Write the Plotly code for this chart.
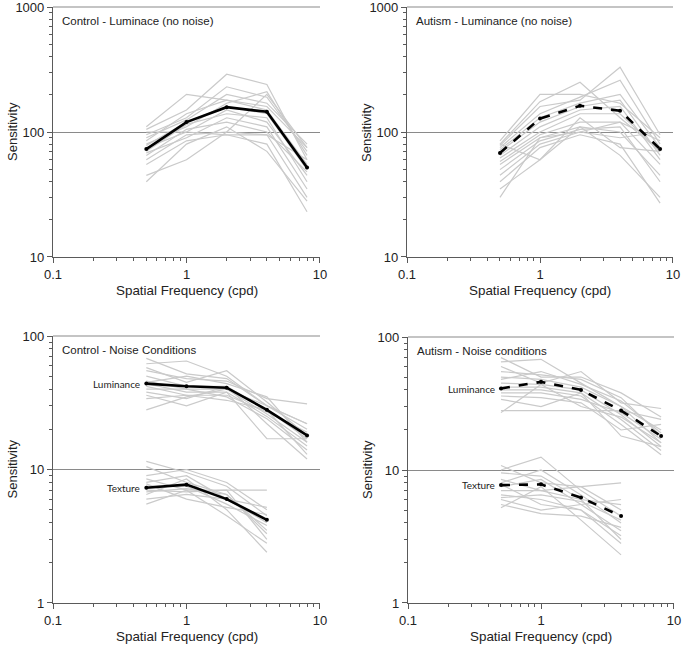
import math
import plotly.graph_objects as go

# ---------------- data ----------------
freq5 = [0.5, 1, 2, 4, 8]
freq4 = [0.5, 1, 2, 4]

ctrl_lum_mean = [73, 120, 158, 145, 52]
aut_lum_mean = [68, 128, 162, 148, 73]
ctrl_noise_lum_mean = [44, 42, 41, 28, 18]
ctrl_noise_tex_mean = [7.3, 7.7, 6.0, 4.2]
aut_noise_lum_mean = [41, 46, 40, 28, 18]
aut_noise_tex_mean = [7.7, 7.8, 6.2, 4.5]

ctrl_lum_subj = [
    [110, 200, 180, 160, 75], [105, 150, 290, 240, 60], [95, 130, 230, 190, 70],
    [90, 125, 200, 170, 80], [85, 140, 180, 150, 55], [80, 110, 170, 210, 65],
    [78, 120, 160, 140, 50], [75, 100, 150, 120, 45], [70, 115, 140, 130, 40],
    [68, 90, 130, 110, 35], [65, 105, 120, 100, 48], [60, 95, 100, 95, 30],
    [55, 85, 95, 80, 23], [45, 60, 100, 200, 75], [40, 80, 110, 70, 28],
    [100, 100, 95, 95, 60],
]
aut_lum_subj = [
    [85, 200, 200, 170, 90], [80, 175, 250, 130, 70], [78, 160, 180, 330, 95],
    [75, 140, 190, 260, 80], [72, 130, 170, 200, 75], [70, 120, 160, 180, 65],
    [65, 110, 150, 160, 60], [62, 100, 140, 140, 70], [58, 95, 120, 120, 55],
    [55, 90, 110, 100, 45], [50, 85, 105, 110, 40], [45, 80, 100, 90, 100],
    [40, 75, 95, 80, 27], [35, 60, 110, 65, 30], [30, 90, 100, 120, 85],
    [80, 60, 130, 75, 70],
]
ctrl_noise_lum_subj = [
    [68, 52, 48, 30, 22], [62, 65, 50, 30, 20], [58, 45, 55, 32, 18],
    [55, 48, 46, 34, 31], [50, 42, 42, 28, 17], [46, 40, 40, 26, 16],
    [44, 38, 38, 25, 15], [42, 36, 36, 27, 19], [40, 40, 35, 24, 14],
    [38, 34, 42, 22, 12], [36, 30, 38, 17, 17], [34, 36, 33, 28, 13],
    [28, 35, 40, 30, 22], [45, 50, 44, 35, 16],
]
ctrl_noise_tex_subj = [
    [11.5, 9.5, 7.5, 4.5], [10.5, 8, 6.5, 3.5], [9, 10, 8, 5], [8.5, 7, 7, 7],
    [8, 9, 6, 4], [7.5, 7.5, 5.5, 3.8], [7, 6.8, 7, 3], [6.5, 8.5, 5, 2.4],
    [6, 6.5, 6, 5.2], [5.5, 7, 4.5, 2.8], [7.8, 6, 5.2, 4.6], [6.8, 7.2, 6.5, 3.3],
]
aut_noise_lum_subj = [
    [70, 50, 50, 38, 25], [65, 68, 45, 30, 20], [60, 45, 55, 32, 29],
    [55, 52, 48, 35, 18], [50, 48, 42, 30, 16], [45, 44, 40, 26, 15],
    [42, 42, 38, 24, 14], [40, 40, 36, 22, 13], [38, 38, 34, 27, 17],
    [36, 35, 32, 20, 22], [34, 30, 38, 18, 15], [27, 44, 30, 25, 16],
    [28, 28, 28, 28, 24], [48, 55, 44, 33, 19],
]
aut_noise_tex_subj = [
    [10.8, 8, 7.5, 5], [10, 12.5, 7, 4.5], [9.5, 9, 6, 5.5], [8.5, 7, 7.5, 8],
    [8, 10, 6.5, 4], [7.5, 8.5, 5.5, 3.5], [7, 7, 6, 3], [6.5, 6, 5, 2.8],
    [6, 5, 5.5, 6], [5.5, 4.7, 4.5, 3.7], [5.2, 7.5, 4.2, 2.3], [6.2, 6.5, 5.8, 4.2],
    [7.8, 5.5, 5, 3.2],
]

panel_titles = ["Control - Luminace (no noise)", "Autism - Luminance (no noise)",
                "Control - Noise Conditions", "Autism - Noise conditions"]
x_title = "Spatial Frequency (cpd)"
y_title = "Sensitivity"
cond_labels = ["Luminance", "Texture"]

# ---------------- figure ----------------
W, H = 685, 648
fig = go.Figure()

GRAY = "#cacaca"
AXC = "#5a5a5a"
GRIDC = "#8a8a8a"

# panel pixel boxes: (x0, x1, ytop, ybottom)
boxes = [(53, 320, 7, 257), (407, 673, 7, 257), (53, 320, 336, 603), (408, 674, 337, 603)]
axes_ids = [("x", "y"), ("x2", "y2"), ("x3", "y3"), ("x4", "y4")]


def add_lines(subj, mean, xs, k, dashed):
    xa, ya = axes_ids[k]
    for s in subj:
        fig.add_trace(go.Scatter(x=xs, y=s, mode="lines", xaxis=xa, yaxis=ya,
                                 line=dict(color=GRAY, width=1.2), hoverinfo="skip",
                                 showlegend=False))
    fig.add_trace(go.Scatter(x=xs, y=mean, mode="lines+markers", xaxis=xa, yaxis=ya,
                             line=dict(color="black", width=2.6,
                                       dash="dash" if dashed else "solid"),
                             marker=dict(size=4, color="black"),
                             showlegend=False))


add_lines(ctrl_lum_subj, ctrl_lum_mean, freq5, 0, False)
add_lines(aut_lum_subj, aut_lum_mean, freq5, 1, True)
add_lines(ctrl_noise_lum_subj, ctrl_noise_lum_mean, freq5, 2, False)
add_lines(ctrl_noise_tex_subj, ctrl_noise_tex_mean, freq4, 2, False)
add_lines(aut_noise_lum_subj, aut_noise_lum_mean, freq5, 3, True)
add_lines(aut_noise_tex_subj, aut_noise_tex_mean, freq4, 3, True)

tickfont = dict(family="Liberation Sans, Arial, sans-serif", size=13, color="#222")
layout = {}
annotations = []
shapes = []
EPS = 1e-4
for k, (x0, x1, yt, yb) in enumerate(boxes):
    sfx = "" if k == 0 else str(k + 1)
    top = k < 2
    yrange = [1 - EPS, 3 + EPS] if top else [0 - EPS, 2 + EPS]
    layout["xaxis" + sfx] = dict(
        type="log", range=[-1 - EPS, 1 + EPS], domain=[x0 / W, x1 / W], automargin=False,
        anchor="y" + sfx, showline=True, linecolor=AXC, linewidth=1.2,
        showgrid=False, zeroline=False, ticks="outside", ticklen=5, tickcolor=AXC,
        tickmode="linear", tick0=0, dtick=1, tickfont=tickfont,
        ticklabeloverflow="allow",
        minor=dict(ticks="outside", ticklen=3, tickcolor=AXC, showgrid=False, dtick="D1"),
    )
    layout["yaxis" + sfx] = dict(
        type="log", range=yrange, domain=[1 - yb / H, 1 - yt / H], automargin=False,
        anchor="x" + sfx, showline=True, linecolor=AXC, linewidth=1.2,
        showgrid=True, gridcolor=GRIDC, gridwidth=1.2, zeroline=False,
        ticks="outside", ticklen=5, tickcolor=AXC,
        tickmode="linear", tick0=0, dtick=1, tickfont=tickfont,
        ticklabeloverflow="allow",
        minor=dict(ticks="outside", ticklen=3, tickcolor=AXC, showgrid=False, dtick="D1"),
    )
    # top gridline (at the upper range edge)
    shapes.append(dict(type="line", xref="x" + sfx + " domain", yref="y" + sfx + " domain",
                       x0=0, x1=1, y0=1, y1=1, line=dict(color=GRIDC, width=1.2)))
    # axis titles
    annotations.append(dict(text=x_title, x=(x0 + x1) / 2 / W, y=1 - (yb + 33) / H,
                            xref="paper", yref="paper", showarrow=False,
                            font=dict(family="Liberation Sans, Arial", size=13.4, color="#222"),
                            xanchor="center", yanchor="middle"))
    annotations.append(dict(text=y_title, x=(x0 - 41) / W, y=1 - (yt + yb) / 2 / H,
                            xref="paper", yref="paper", showarrow=False, textangle=-90,
                            font=dict(family="Liberation Sans, Arial", size=13, color="#222"),
                            xanchor="center", yanchor="middle"))
    # panel titles
    annotations.append(dict(text=panel_titles[k], x=(x0 + 7) / W, y=1 - (yt + 14) / H,
                            xref="paper", yref="paper", showarrow=False,
                            font=dict(family="Liberation Sans, Arial", size=11.5, color="#222"),
                            xanchor="left", yanchor="middle"))

# condition labels placed next to the first mean point
for k, lum_mean, tex_mean in [(2, ctrl_noise_lum_mean, ctrl_noise_tex_mean),
                              (3, aut_noise_lum_mean, aut_noise_tex_mean)]:
    xa, ya = axes_ids[k]
    for txt, m in zip(cond_labels, [lum_mean, tex_mean]):
        annotations.append(dict(text=txt, x=math.log10(freq5[0]) - 0.03, y=math.log10(m[0]),
                                xref=xa, yref=ya, showarrow=False,
                                xanchor="right", yanchor="middle",
                                font=dict(family="Lato, Open Sans, sans-serif", size=10,
                                          color="#222")))

fig.update_layout(width=W, height=H, margin=dict(l=0, r=0, t=0, b=0),
                  plot_bgcolor="white", paper_bgcolor="white",
                  annotations=annotations, shapes=shapes, **layout)

fig.write_html("out.html", config={"displayModeBar": False},
               post_script="document.body.style.margin='0';document.body.style.overflow='hidden';")
